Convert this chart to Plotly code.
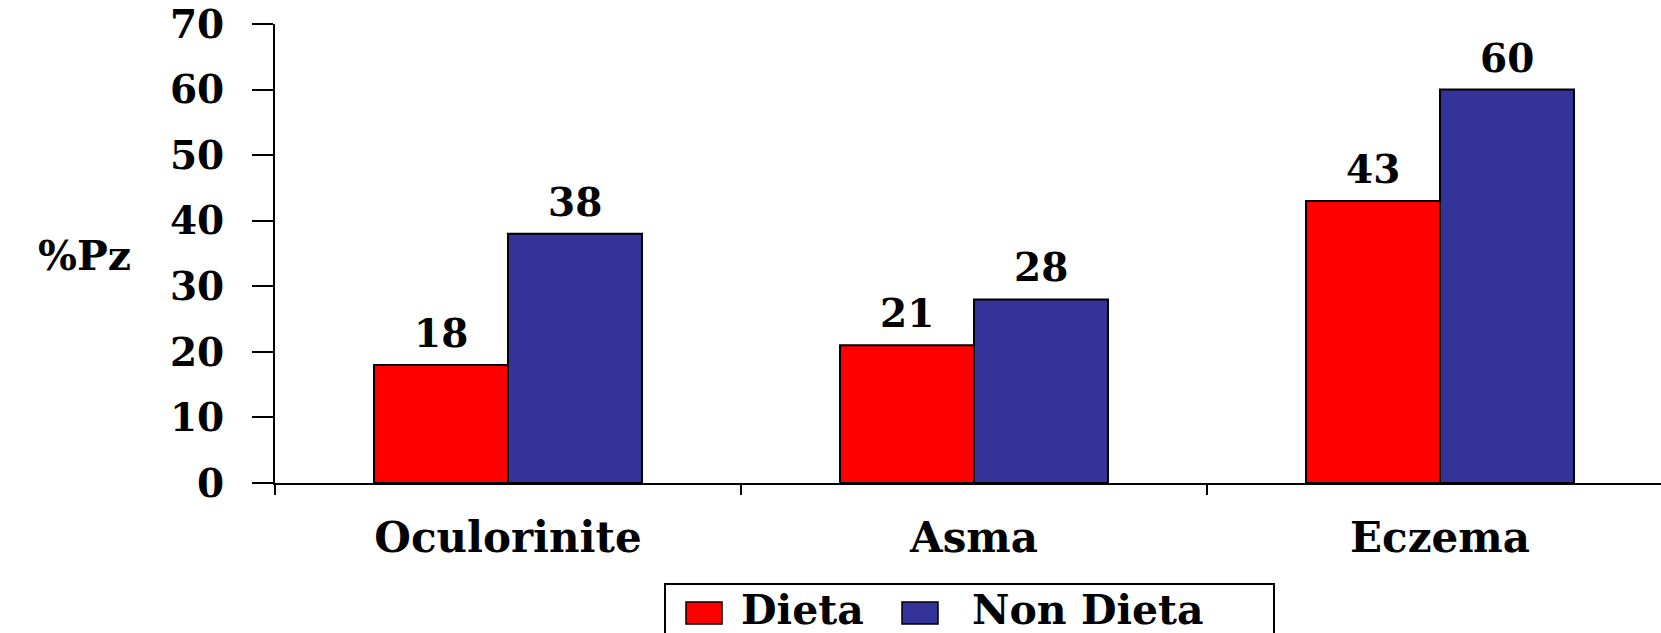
import plotly.graph_objects as go

# Data
categories = ["Oculorinite", "Asma", "Eczema"]
series_names = ["Dieta", "Non Dieta"]
dieta = [18, 21, 43]
non_dieta = [38, 28, 60]
series_values = [dieta, non_dieta]
series_colors = ["#FF0000", "#333399"]
y_tick_values = [0, 10, 20, 30, 40, 50, 60, 70]

FONT = "DejaVu Serif"
W, H = 1661, 633
M_L, M_R, M_T, M_B = 275, 0, 24, 150

fig = go.Figure()
for name, vals, col in zip(series_names, series_values, series_colors):
    fig.add_trace(go.Bar(
        name=name, x=categories, y=vals,
        marker=dict(color=col, line=dict(color="black", width=2)),
        showlegend=False,
    ))

# value labels above each bar
bargap = 0.425
n_series = len(series_names)
slot = (1 - bargap) / n_series
plot_w = W - M_L - M_R
plot_h = H - M_T - M_B
x_range = [-0.5, -0.5 + plot_w / 466.0]
px_per_cat = plot_w / (x_range[1] - x_range[0])
annotations = []
for i, (vals, name) in enumerate(zip(series_values, series_names)):
    offset = (-(1 - bargap) / 2 + slot * (i + 0.5)) * px_per_cat
    for cat, v in zip(categories, vals):
        annotations.append(dict(
            x=cat, y=v, xref="x", yref="y", text=str(v), showarrow=False,
            xanchor="center", yanchor="bottom", xshift=offset, yshift=7,
            font=dict(family=FONT, size=39, color="black", weight="bold"),
        ))


def px_x(px):
    return (px - M_L) / plot_w


def px_y(py):
    return (H - M_B - py) / plot_h


# y-axis caption, horizontal at left
annotations.append(dict(
    x=px_x(84), y=px_y(256), xref="paper", yref="paper",
    text="%Pz", showarrow=False, xanchor="center", yanchor="middle",
    font=dict(family=FONT, size=41, color="black", weight="bold"),
))

# legend drawn as a boxed row of swatches and names
shapes = [dict(
    type="rect", xref="paper", yref="paper",
    x0=px_x(665), x1=px_x(1274), y0=px_y(640), y1=px_y(584),
    line=dict(color="black", width=2), fillcolor="white", layer="above",
)]
swatch_left = [686, 902]
text_left = [739, 970]
for name, col, sx, tx in zip(series_names, series_colors, swatch_left, text_left):
    shapes.append(dict(
        type="rect", xref="paper", yref="paper",
        x0=px_x(sx), x1=px_x(sx + 36), y0=px_y(624), y1=px_y(602),
        line=dict(color="black", width=1.5), fillcolor=col, layer="above",
    ))
    annotations.append(dict(
        x=px_x(tx), y=px_y(636), xref="paper", yref="paper", text=name,
        showarrow=False, xanchor="left", yanchor="bottom",
        font=dict(family=FONT, size=41, color="black", weight="bold"),
    ))

fig.update_layout(
    width=W, height=H,
    margin=dict(l=M_L, r=M_R, t=M_T, b=M_B, autoexpand=False),
    paper_bgcolor="white", plot_bgcolor="white",
    barmode="group", bargap=bargap, bargroupgap=0,
    font=dict(family=FONT, color="black", weight="bold"),
    annotations=annotations, shapes=shapes,
    xaxis=dict(
        range=x_range, showgrid=False, zeroline=False,
        showline=True, linecolor="black", linewidth=2,
        ticks="outside", tickson="boundaries", ticklen=10, tickwidth=2, tickcolor="black",
        tickfont=dict(family=FONT, size=42, color="black", weight="bold"),
        ticklabelstandoff=17,
    ),
    yaxis=dict(
        range=[0, 70], tickvals=y_tick_values, showgrid=False, zeroline=False,
        showline=True, linecolor="black", linewidth=2,
        ticks="outside", ticklen=21, tickwidth=2, tickcolor="black",
        tickfont=dict(family=FONT, size=39, color="black", weight="bold"),
        ticklabelstandoff=20,
    ),
)

fig.write_html("out.html")
